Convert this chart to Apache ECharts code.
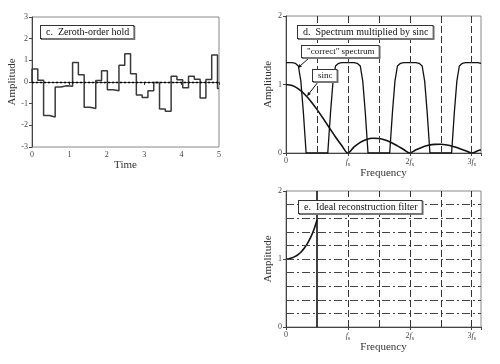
<!DOCTYPE html>
<html>
<head>
<meta charset="utf-8">
<script src="https://cdn.jsdelivr.net/npm/echarts@6/dist/echarts.min.js"></script>
<style>html,body{margin:0;padding:0;background:#fff}#c{width:500px;height:364px}</style>
</head>
<body>
<div id="c"></div>
<script>
// ---- Panel c: zeroth-order hold ----
const holdTimes = [0, 0, 0.155, 0.31, 0.465, 0.62, 0.775, 0.93, 1.085, 1.24, 1.395, 1.55, 1.705, 1.86, 2.015, 2.17, 2.325, 2.48, 2.635, 2.79, 2.945, 3.1, 3.255, 3.41, 3.565, 3.72, 3.875, 4.03, 4.185, 4.34, 4.495, 4.65, 4.805, 4.96, 5.0];
const holdValues = [0, 0.6, 0.08, -1.55, -1.62, -0.23, -0.17, -0.2, 0.9, 0.34, -1.17, -1.22, 0.07, 0.52, -0.36, -0.4, 0.77, 1.3, 0.38, -0.6, -0.71, -0.4, -0.02, -1.25, -1.35, 0.26, 0.1, -0.26, 0.26, 0.13, -0.74, 0.11, 1.25, -0.3, -0.3];
const timeTicks = [0, 1, 2, 3, 4, 5];
const ampTicksC = [-3, -2, -1, 0, 1, 2, 3];

// ---- Panel d: spectrum multiplied by sinc ----
const specFreq = [0, 0.1, 0.15, 0.2, 0.24, 0.28, 0.31, 0.325,
  0.675, 0.69, 0.72, 0.76, 0.8, 0.85, 0.9, 1.0, 1.1, 1.15, 1.2, 1.24, 1.28, 1.31, 1.325,
  1.675, 1.69, 1.72, 1.76, 1.8, 1.85, 1.9, 2.0, 2.1, 2.15, 2.2, 2.24, 2.28, 2.31, 2.325,
  2.675, 2.69, 2.72, 2.76, 2.8, 2.85, 2.9, 3.0, 3.1, 3.15];
const specAmp = [1.32, 1.32, 1.31, 1.27, 1.05, 0.6, 0.2, 0,
  0, 0.2, 0.6, 1.05, 1.27, 1.31, 1.32, 1.32, 1.32, 1.31, 1.27, 1.05, 0.6, 0.2, 0,
  0, 0.2, 0.6, 1.05, 1.27, 1.31, 1.32, 1.32, 1.32, 1.31, 1.27, 1.05, 0.6, 0.2, 0,
  0, 0.2, 0.6, 1.05, 1.27, 1.31, 1.32, 1.32, 1.32, 1.31];
const sincFreq = [0, 0.1, 0.2, 0.3, 0.4, 0.5, 0.6, 0.7, 0.8, 0.9, 1.0, 1.1, 1.2, 1.3, 1.4, 1.5, 1.6, 1.7, 1.8, 1.9, 2.0, 2.1, 2.2, 2.3, 2.4, 2.5, 2.6, 2.7, 2.8, 2.9, 3.0, 3.1, 3.15];
const sincAmp = [1, 0.984, 0.936, 0.858, 0.757, 0.637, 0.505, 0.368, 0.234, 0.109, 0, 0.089, 0.156, 0.198, 0.216, 0.212, 0.189, 0.152, 0.104, 0.052, 0, 0.047, 0.085, 0.112, 0.126, 0.127, 0.116, 0.095, 0.067, 0.034, 0, 0.032, 0.046];
const dDashedX = [0.5, 1, 1.5, 2, 2.5, 3];

// ---- Panel e: ideal reconstruction filter ----
const filterFreq = [0, 0.05, 0.1, 0.15, 0.2, 0.25, 0.3, 0.35, 0.4, 0.45, 0.5];
const filterAmp = [1, 1.004, 1.017, 1.038, 1.069, 1.111, 1.165, 1.234, 1.321, 1.431, 1.571];
const eCutoff = 0.5;
const eDashedX = [1, 1.5, 2, 2.5, 3];
const eLevels = [0.2, 0.4, 0.6, 0.8, 1.0, 1.2, 1.4, 1.6, 1.8];
const freqTickValues = [0, 1, 2, 3];
const freqTickLabels = ['0', '{i|f}{s|s}', '2{i|f}{s|s}', '3{i|f}{s|s}'];
const ampTicksDE = [0, 1, 2];

const FONT = '"Liberation Serif", "DejaVu Serif", serif';
const chart = echarts.init(document.getElementById('c'), null, {renderer: 'canvas'});

function zip(a, b) { return a.map((v, i) => [v, b[i]]); }

const axisLineStyle = {color: '#444', width: 1};
const tickLabel = {fontFamily: FONT, fontSize: 8, color: '#444', margin: 4};
const nameStyle = {fontFamily: FONT, fontSize: 11, color: '#333'};

function freqAxis(gi) {
  return {
    type: 'value', gridIndex: gi, min: 0, max: 3.15, interval: 1,
    name: 'Frequency', nameLocation: 'middle', nameGap: 12, nameTextStyle: nameStyle,
    axisLine: {lineStyle: axisLineStyle}, axisTick: {length: 3, lineStyle: axisLineStyle},
    splitLine: {show: false},
    axisLabel: Object.assign({}, tickLabel, {
      formatter: v => { const k = freqTickValues.indexOf(v); return k >= 0 ? freqTickLabels[k] : ''; },
      rich: {i: {fontFamily: FONT, fontSize: 8, fontStyle: 'italic', color: '#444'},
             s: {fontFamily: FONT, fontSize: 6, color: '#444', padding: [4, 0, 0, 0]}}
    })
  };
}
function ampAxis(gi, ticks, nameGap) {
  return {
    type: 'value', gridIndex: gi, min: ticks[0], max: ticks[ticks.length - 1], interval: 1,
    name: 'Amplitude', nameLocation: 'middle', nameGap: nameGap, nameTextStyle: nameStyle,
    axisLine: {lineStyle: axisLineStyle}, axisTick: {length: 3, lineStyle: axisLineStyle},
    splitLine: {show: false}, axisLabel: tickLabel
  };
}

const option = {
  backgroundColor: '#fff',
  animation: false,
  grid: [
    {left: 32, top: 17, width: 187, height: 130, show: true, borderColor: '#888', borderWidth: 1},
    {left: 286, top: 16, width: 195, height: 137, show: true, borderColor: '#888', borderWidth: 1},
    {left: 286, top: 191, width: 195, height: 136, show: true, borderColor: '#888', borderWidth: 1}
  ],
  xAxis: [
    {type: 'value', gridIndex: 0, min: 0, max: 5, interval: 1,
     name: 'Time', nameLocation: 'middle', nameGap: 12, nameTextStyle: nameStyle,
     axisLine: {lineStyle: axisLineStyle}, axisTick: {length: 3, lineStyle: axisLineStyle},
     splitLine: {show: false}, axisLabel: tickLabel},
    freqAxis(1), freqAxis(2)
  ],
  yAxis: [ampAxis(0, ampTicksC, 14), ampAxis(1, ampTicksDE, 10), ampAxis(2, ampTicksDE, 10)],
  series: [
    {type: 'line', xAxisIndex: 0, yAxisIndex: 0, step: 'end', symbol: 'none',
     data: zip(holdTimes, holdValues), lineStyle: {color: '#3a3a3a', width: 1.5},
     markLine: {silent: true, symbol: 'none', label: {show: false},
       lineStyle: {color: '#000', type: [2, 2], width: 1.3}, data: [{yAxis: 0}]}},
    {type: 'line', xAxisIndex: 1, yAxisIndex: 1, symbol: 'none', z: 3,
     data: zip(specFreq, specAmp), lineStyle: {color: '#111', width: 1.3},
     markLine: {silent: true, symbol: 'none', label: {show: false},
       lineStyle: {color: '#333', type: [7, 3], width: 1}, data: dDashedX.map(v => ({xAxis: v}))}},
    {type: 'line', xAxisIndex: 1, yAxisIndex: 1, symbol: 'none', smooth: 0.3, z: 4,
     data: zip(sincFreq, sincAmp), lineStyle: {color: '#111', width: 1.6}},
    {type: 'line', xAxisIndex: 2, yAxisIndex: 2, symbol: 'none', smooth: 0.3, z: 4,
     data: zip(filterFreq, filterAmp), lineStyle: {color: '#111', width: 1.6},
     markLine: {silent: true, symbol: 'none', label: {show: false},
       data: eLevels.map(v => ({yAxis: v, lineStyle: {color: '#444', type: [8, 3, 2, 3], width: 1}}))
         .concat(eDashedX.map(v => ({xAxis: v, lineStyle: {color: '#333', type: [7, 3], width: 1}})))
         .concat([{xAxis: eCutoff, lineStyle: {color: '#111', type: 'solid', width: 1.6}}])}}
  ]
};
chart.setOption(option);

function boxText(text, x, y, size) {
  return {type: 'text', x: x, y: y, z: 100,
    style: {text: text, font: size + 'px ' + FONT, fill: '#111',
      backgroundColor: '#fff', borderColor: '#333', borderWidth: 1,
      padding: [1, 4, 1, 5], shadowColor: '#777', shadowOffsetX: 1, shadowOffsetY: 1, shadowBlur: 0}};
}
function leader(x1, y1, tip) {
  const [x2, y2] = tip;
  const ang = Math.atan2(y2 - y1, x2 - x1), L = 4, W = 1.8;
  const bx = x2 - L * Math.cos(ang), by = y2 - L * Math.sin(ang);
  const px = -Math.sin(ang) * W, py = Math.cos(ang) * W;
  return [
    {type: 'line', z: 99, shape: {x1: x1, y1: y1, x2: bx, y2: by}, style: {stroke: '#111', lineWidth: 1}},
    {type: 'polygon', z: 99, shape: {points: [[x2, y2], [bx + px, by + py], [bx - px, by - py]]}, style: {fill: '#111'}}
  ];
}
const tipSpec = chart.convertToPixel({xAxisIndex: 1, yAxisIndex: 1}, [0.19, 1.24]);
const tipSinc = chart.convertToPixel({xAxisIndex: 1, yAxisIndex: 1}, [0.34, 0.83]);

chart.setOption({graphic: [
  boxText('c.  Zeroth-order hold', 41, 26, 10),
  boxText('d.  Spectrum multiplied by sinc', 298, 26, 10),
  boxText('"correct" spectrum', 302, 46, 9),
  boxText('sinc', 313, 70, 9),
  boxText('e.  Ideal reconstruction filter', 299, 201, 10)
].concat(leader(309, 58, tipSpec)).concat(leader(318, 82, tipSinc))});
</script>
</body>
</html>
